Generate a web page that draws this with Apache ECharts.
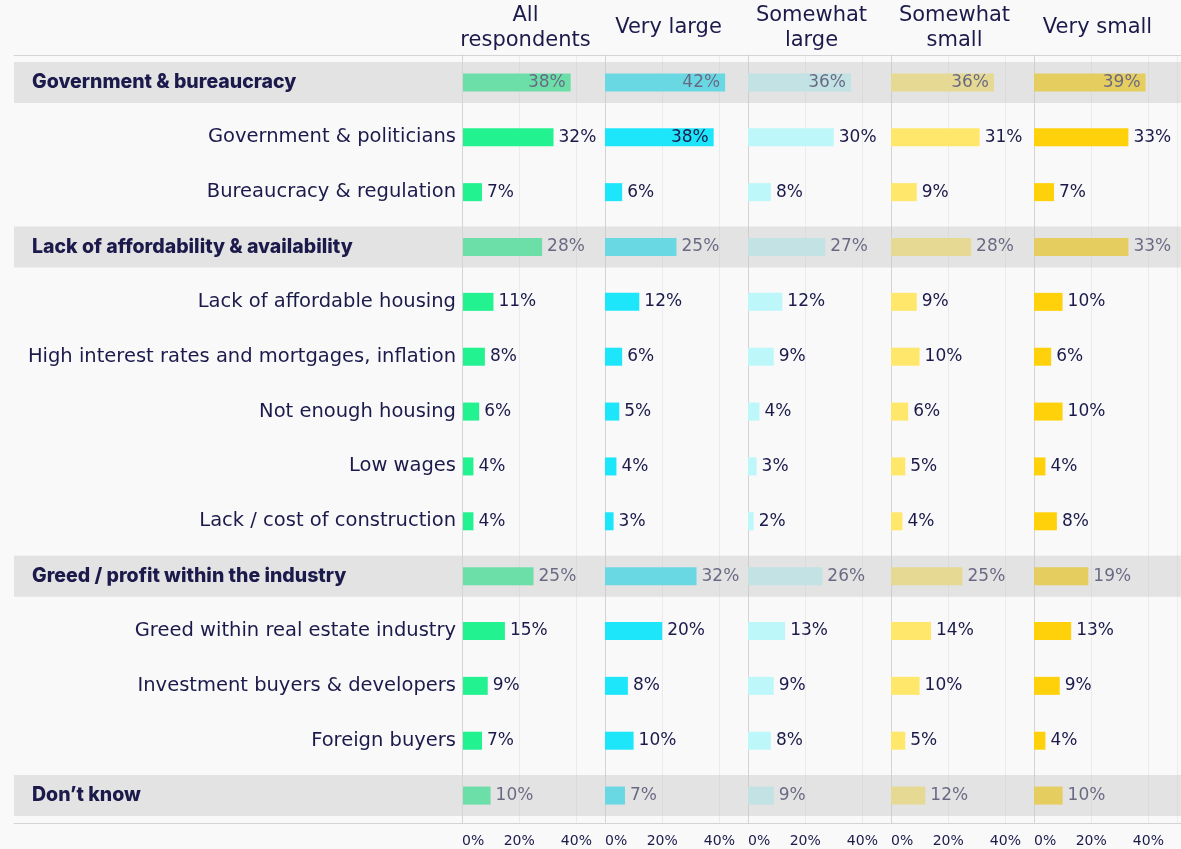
<!DOCTYPE html>
<html>
<head>
<meta charset="utf-8">
<script src="https://cdn.jsdelivr.net/npm/echarts@6/dist/echarts.min.js"></script>
<style>
  html, body { margin: 0; padding: 0; background: #f9f9f9; }
  #chart { width: 1181px; height: 849px; }
</style>
</head>
<body>
<div id="chart"></div>
<script>
  // categories, top to bottom
  const categories = [
    'Government & bureaucracy',
    'Government & politicians',
    'Bureaucracy & regulation',
    'Lack of affordability & availability',
    'Lack of affordable housing',
    'High interest rates and mortgages, inflation',
    'Not enough housing',
    'Low wages',
    'Lack / cost of construction',
    'Greed / profit within the industry',
    'Greed within real estate industry',
    'Investment buyers & developers',
    'Foreign buyers',
    'Don\u2019t know'
  ]
  // group rows (grey band)
  const isHeader = [1, 0, 0, 1, 0, 0, 0, 0, 0, 1, 0, 0, 0, 1]

  const columns = ['All\nrespondents', 'Very large', 'Somewhat\nlarge', 'Somewhat\nsmall', 'Very small']

  const allRespondents = [38, 32, 7, 28, 11, 8, 6, 4, 4, 25, 15, 9, 7, 10]
  const veryLarge      = [42, 38, 6, 25, 12, 6, 5, 4, 3, 32, 20, 8, 10, 7]
  const somewhatLarge  = [36, 30, 8, 27, 12, 9, 4, 3, 2, 26, 13, 9, 8, 9]
  const somewhatSmall  = [36, 31, 9, 28, 9, 10, 6, 5, 4, 25, 14, 10, 5, 12]
  const verySmall      = [39, 33, 7, 33, 10, 6, 10, 4, 8, 19, 13, 9, 4, 10]

  const seriesValues = [allRespondents, veryLarge, somewhatLarge, somewhatSmall, verySmall]
  const colors = ['#22f28f', '#1de6fa', '#bdf7f9', '#ffe76b', '#ffd10a']

  const navy = '#1b1a4b'
  const font = '"DejaVu Sans", sans-serif'
  const boldFont = 'Inter, "Noto Sans", sans-serif'
  const panelLeft = 462
  const panelW = 143
  const plotTop = 55
  const plotH = 768

  let myChart = echarts.init(document.getElementById('chart'))

  let grids = [], xAxes = [], yAxes = [], series = [], titles = []

  seriesValues.forEach((vals, i) => {
    grids.push({ left: panelLeft + i * panelW, top: plotTop, width: panelW, height: plotH })
    xAxes.push({
      gridIndex: i,
      type: 'value',
      min: 0,
      max: 50,
      interval: 20,
      axisLine: { show: false },
      axisTick: { show: false },
      splitLine: { show: true, lineStyle: { color: '#ebebeb', width: 1 } },
      axisLabel: {
        color: navy,
        fontFamily: font,
        fontSize: 14,
        margin: 11,
        showMaxLabel: false,
        alignMinLabel: 'left',
        formatter: '{value}%'
      }
    })
    yAxes.push({
      gridIndex: i,
      type: 'category',
      inverse: true,
      data: categories,
      z: i === 0 ? 10 : 0,
      axisTick: { show: false },
      axisLine: { show: true, lineStyle: { color: '#d4d4d4' } },
      axisLabel: i === 0 ? {
        show: true,
        margin: 6,
        color: navy,
        fontFamily: font,
        fontSize: 19.5,
        formatter: function (v, idx) {
          return isHeader[idx] ? '{h|' + v + '}' : v
        },
        rich: {
          h: { width: 424, align: 'left', fontWeight: 800, fontSize: 19.5, color: navy, fontFamily: boldFont }
        }
      } : { show: false }
    })
    series.push({
      type: 'bar',
      xAxisIndex: i,
      yAxisIndex: i,
      barWidth: 18,
      itemStyle: { color: colors[i] },
      data: vals.map(v => ({
        value: v,
        label: { position: v >= 35 ? 'insideRight' : 'right' }
      })),
      label: {
        show: true,
        distance: 5,
        color: navy,
        fontFamily: font,
        fontSize: 17,
        formatter: '{c}%'
      }
    })
    let lines = columns[i].split('\n').length
    titles.push({
      text: columns[i],
      left: panelLeft + i * panelW + panelW / 2 - 8,
      top: 28 - lines * 12.5,
      textAlign: 'center',
      padding: 0,
      textStyle: { color: navy, fontFamily: font, fontSize: 21, fontWeight: 'normal', lineHeight: 25 }
    })
  })

  // full-width grid for the grey group bands and the frame lines
  grids.push({ left: 14, right: 0, top: plotTop, height: plotH })
  xAxes.push({
    gridIndex: 5, type: 'value', min: 0, max: 1, position: 'bottom',
    axisLine: { show: true, lineStyle: { color: '#d4d4d4' } },
    axisTick: { show: false }, axisLabel: { show: false }, splitLine: { show: false }
  })
  xAxes.push({
    gridIndex: 5, type: 'value', min: 0, max: 1, position: 'top',
    axisLine: { show: true, lineStyle: { color: '#d4d4d4' } },
    axisTick: { show: false }, axisLabel: { show: false }, splitLine: { show: false }
  })
  yAxes.push({
    gridIndex: 5, type: 'category', inverse: true, data: categories, show: false
  })
  series.push({
    type: 'bar',
    xAxisIndex: 5,
    yAxisIndex: 5,
    barWidth: 41,
    z: 3,
    silent: true,
    itemStyle: { color: 'rgba(200,200,200,0.45)' },
    data: isHeader
  })

  myChart.setOption({
    backgroundColor: '#f9f9f9',
    animation: false,
    title: titles,
    grid: grids,
    xAxis: xAxes,
    yAxis: yAxes,
    series: series
  })

  window.onresize = function () {
    myChart.resize()
  }
</script>
</body>
</html>
